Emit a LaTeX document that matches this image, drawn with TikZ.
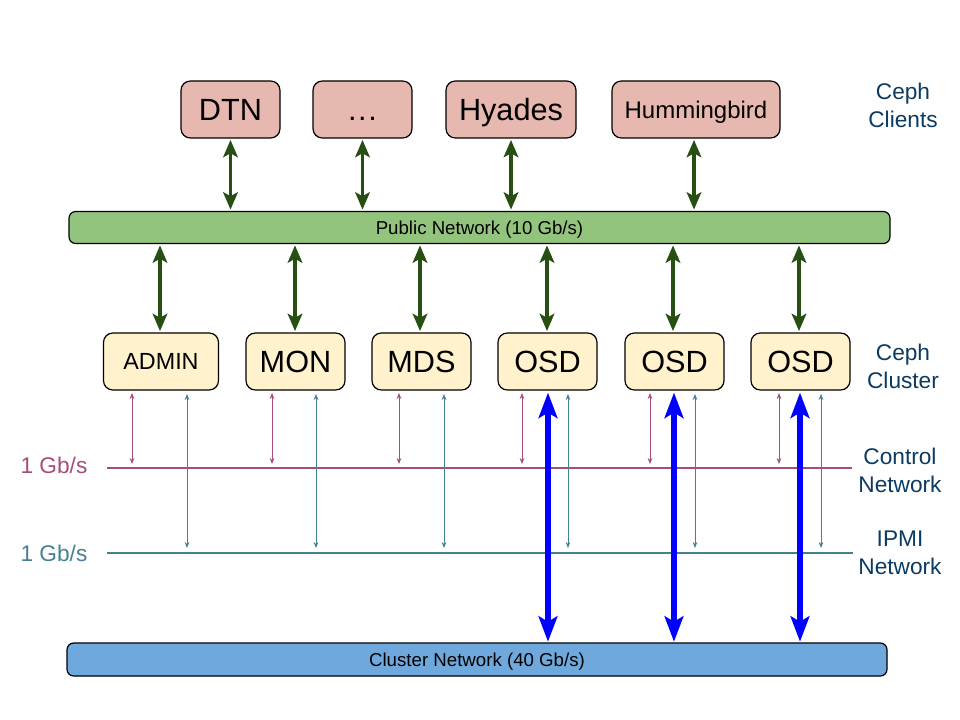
\documentclass[tikz,border=0pt]{standalone}
\usepackage{fontspec}
\setmainfont{Liberation Sans}
\usetikzlibrary{arrows.meta}
\definecolor{clientfill}{HTML}{E6B8AF}
\definecolor{clusterfill}{HTML}{FFF2CC}
\definecolor{pubfill}{HTML}{93C47D}
\definecolor{clusnetfill}{HTML}{6FA8DC}
\definecolor{darkgreen}{HTML}{274E13}
\definecolor{ctlcol}{HTML}{A64D79}
\definecolor{ipmicol}{HTML}{45818E}
\definecolor{labcol}{HTML}{0B3A62}
\def\u{0.75pt}
\tikzset{
  box/.style={draw=black, line width=0.9pt, rounded corners=7pt, inner sep=0pt, minimum height={57*\u}, text depth=0pt},
  client/.style={box, fill=clientfill, minimum width={99*\u}, font=\fontsize{23}{27}\selectfont, text height=16.5pt},
  member/.style={box, fill=clusterfill, minimum width={99*\u}, font=\fontsize{23}{27}\selectfont, text height=16.5pt},
  bar/.style={draw=black, line width=0.9pt, rounded corners=5pt, inner sep=0pt, text height=10pt, text depth=0pt, font=\fontsize{14}{17}\selectfont},
  greenarrow/.style={draw=darkgreen, line width=2.3pt, {Stealth[length=13pt,width=11pt,inset=3pt]}-{Stealth[length=13pt,width=11pt,inset=3pt]}},
  bluearrow/.style={draw=blue, line width=3.8pt, {Stealth[length=19pt,width=14pt,inset=4pt]}-{Stealth[length=19pt,width=14pt,inset=4pt]}},
  ctlarrow/.style={draw=ctlcol, line width=0.6pt, {Stealth[length=4.5pt,width=3.5pt]}-{Stealth[length=4.5pt,width=3.5pt]}},
  ipmiarrow/.style={draw=ipmicol, line width=0.6pt, {Stealth[length=4.5pt,width=3.5pt]}-{Stealth[length=4.5pt,width=3.5pt]}},
  sidelabel/.style={text=labcol, align=center, inner sep=0pt, font=\fontsize{17}{21}\selectfont},
  ratelabel/.style={inner sep=0pt, font=\fontsize{17}{21}\selectfont}
}
\begin{document}
\begin{tikzpicture}[x=0.75pt,y=-0.75pt]
\useasboundingbox (0,0) rectangle (960,720);
% clients
\node[client] (dtn) at (230.5,109.5) {DTN};
\node[client] (dots) at (362.5,109.5) {.\kern0.05em.\kern0.05em.};
\node[client, minimum width={130*\u}] (hyades) at (511,109.5) {Hyades};
\node[client, minimum width={168*\u}, font=\fontsize{18}{22}\selectfont, text height=12.9pt] (hum) at (696,109.5) {Hummingbird};
% public network
\node[bar, fill=pubfill, minimum width={821*\u}, minimum height={32*\u}] (pub) at (479.5,227.5) {Public Network (10 Gb/s)};
% cluster members
\node[member, minimum width={115*\u}, font=\fontsize{17.5}{21}\selectfont, text height=12.5pt] (admin) at (161,361.5) {ADMIN};
\node[member] (mon) at (295.5,361.5) {MON};
\node[member] (mds) at (421.5,361.5) {MDS};
\node[member] (osda) at (547.5,361.5) {OSD};
\node[member] (osdb) at (674.5,361.5) {OSD};
\node[member] (osdc) at (800.5,361.5) {OSD};
% cluster network
\node[bar, fill=clusnetfill, minimum width={820*\u}, minimum height={33*\u}] (clus) at (477,659.5) {Cluster Network (40 Gb/s)};
% side labels
\node[sidelabel] (lclients) at (903,105) {Ceph\\Clients};
\node[sidelabel] (lcluster) at (903,366) {Ceph\\Cluster};
\node[sidelabel] (lcontrol) at (900,470) {Control\\Network};
\node[sidelabel] (lipmi) at (900,553) {IPMI\\Network};
\node[ratelabel, text=ctlcol] (rctl) at (54,465) {1 Gb/s};
\node[ratelabel, text=ipmicol] (ripmi) at (54,553) {1 Gb/s};
% control and ipmi lines
\coordinate (ctlL) at (107,468);
\coordinate (ctlR) at (852,468);
\coordinate (ipmiL) at (107,553);
\coordinate (ipmiR) at (853,553);
\draw[ctlcol, line width=0.9pt] (ctlL) -- (ctlR);
\draw[ipmicol, line width=0.9pt] (ipmiL) -- (ipmiR);
% client arrows
\draw[greenarrow, shorten <=1pt, shorten >=1pt] (dtn.south) -- (dtn.south |- pub.north);
\draw[greenarrow, shorten <=1pt, shorten >=1pt] (dots.south) -- (dots.south |- pub.north);
\draw[greenarrow, shorten <=1pt, shorten >=1pt] (hyades.south) -- (hyades.south |- pub.north);
\draw[greenarrow, shorten <=1pt, shorten >=1pt] (694,0 |- hum.south) -- (694,0 |- pub.north);
% public to cluster
\foreach \n/\x in {admin/160, mon/295, mds/420, osda/547, osdb/673, osdc/799}{
  \draw[greenarrow, shorten <=1pt, shorten >=1pt] (\x,0 |- pub.south) -- (\x,0 |- \n.north);
}
% small arrows to control and ipmi
\foreach \n/\p/\t in {admin/132/187, mon/272/316, mds/399/444, osda/522/568, osdb/650/695, osdc/779/821}{
  \draw[ctlarrow] (\p,393) -- (\p,464);
  \draw[ipmiarrow] (\t,394) -- (\t,548);
}
% cluster network arrows
\foreach \n/\x in {osda/548, osdb/674, osdc/800}{
  \draw[bluearrow, shorten <=1.5pt, shorten >=0.5pt] (\x,0 |- \n.south) -- (\x,0 |- clus.north);
}
\end{tikzpicture}
\end{document}
